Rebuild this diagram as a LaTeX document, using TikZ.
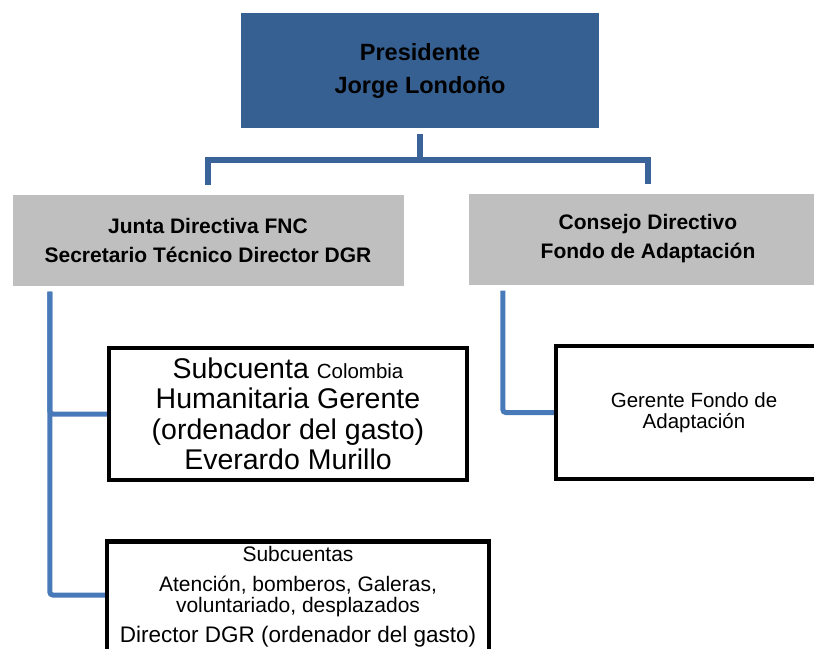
\documentclass[tikz,border=0pt]{standalone}
\usepackage{fontspec}
\setmainfont{Liberation Sans}
\definecolor{presblue}{RGB}{55,96,146}
\definecolor{topblue}{RGB}{58,99,153}
\definecolor{linkblue}{RGB}{72,121,184}
\definecolor{boxgray}{RGB}{191,191,191}
\tikzset{
  presbox/.style={fill=presblue,minimum width=358pt,minimum height=115pt,
    align=center,font=\fontsize{23.5}{33}\selectfont\bfseries},
  graybox/.style={fill=boxgray,minimum height=91pt,align=center,
    font=\fontsize{21}{29}\selectfont\bfseries},
  linebox/.style={draw=black,line width=4.5pt,align=center},
  toplink/.style={draw=topblue,line width=5.5pt},
  link/.style={draw=linkblue,line width=5pt,rounded corners=3pt}
}
\begin{document}
\begin{tikzpicture}[x=1pt,y=-1pt]
      \useasboundingbox (0,0) rectangle (814,648);

      \node[presbox] (pres) at (420,70.5) {Presidente\\Jorge Londoño};

      \begin{scope}[every node/.style={graybox}]
        \node[minimum width=391pt] (junta)   at (208,240) {Junta Directiva FNC\\Secretario Técnico Director DGR};
        \node[minimum width=358pt] (consejo) at (648,239) {Consejo Directivo\\Fondo de Adaptación};
      \end{scope}

      \begin{scope}[every node/.style={linebox}]
        \node[minimum width=358pt,minimum height=132pt,font=\fontsize{28.5}{30.5}\selectfont]
          (colombia) at (288,414)
          {Subcuenta {\fontsize{20.5}{30}\selectfont Colombia}\\Humanitaria Gerente\\(ordenador del gasto)\\Everardo Murillo};
        \node[minimum width=276pt,minimum height=133pt,font=\fontsize{20.5}{21}\selectfont]
          (gerente) at (694,412.5) {Gerente Fondo de\\Adaptación};
        \node[minimum width=382pt,anchor=north,inner ysep=5pt,font=\fontsize{21}{21}\selectfont]
          (subcuentas) at (298,539)
          {Subcuentas\\[9pt]Atención, bomberos, Galeras,\\voluntariado, desplazados\\[9pt]{\fontsize{22.5}{22}\selectfont Director DGR (ordenador del gasto)}};
      \end{scope}

      \draw[toplink] ([yshift=-6pt]pres.south) -- ++(0,26) coordinate (fork);
      \draw[toplink] (fork) -| ([yshift=9pt]junta.north);
      \draw[toplink] (fork) -| ([yshift=9pt]consejo.north);

      \draw[link] ([xshift=37.5pt,yshift=-6pt]junta.south west) |- (colombia.west);
      \draw[link] ([xshift=37.5pt,yshift=-6pt]junta.south west) |- ([yshift=-56pt]subcuentas.north west);
      \draw[link] ([xshift=34pt,yshift=-6pt]consejo.south west) |- (gerente.west);

\end{tikzpicture}
\end{document}
